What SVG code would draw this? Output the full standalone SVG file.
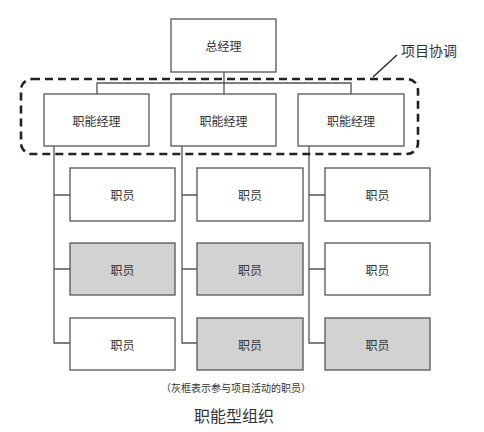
<svg xmlns="http://www.w3.org/2000/svg" width="484" height="432" viewBox="0 0 484 432">
<style>
.box{fill:#fff;stroke:#555;stroke-width:1.3}
.gray{fill:#d2d2d2;stroke:#555;stroke-width:1.3}
.t{font-family:"Noto Sans CJK SC","Noto Sans",sans-serif;font-size:12px;fill:#333;text-anchor:middle;dominant-baseline:central}
.ln{fill:none;stroke:#555;stroke-width:1.3}
</style>
<rect width="484" height="432" fill="#fff"/>
<g id="connectors">
<path class="ln" d="M224,72V94M97,94V83H351V94"/>
<path class="ln" d="M54,146V343H70M54,195H70M54,269H70"/>
<path class="ln" d="M182,146V343H197M182,195H197M182,269H197"/>
<path class="ln" d="M309,146V343H325M309,195H325M309,269H325"/>
</g>
<g id="coordination">
<rect x="21" y="79" width="397" height="75" rx="11" fill="none" stroke="#222" stroke-width="2.6" stroke-dasharray="8,5"/>
<line x1="373" y1="77" x2="397" y2="55" stroke="#222" stroke-width="1.3"/>
<text x="429" y="50" class="t" style="font-size:14px">项目协调</text>
</g>
<g id="gm"><rect class="box" x="171" y="19" width="105" height="53"/><text class="t" x="223.5" y="45.5">总经理</text></g>
<g id="fm1"><rect class="box" x="44" y="94" width="105" height="52"/><text class="t" x="96.5" y="120">职能经理</text></g>
<g id="fm2"><rect class="box" x="171" y="94" width="105" height="52"/><text class="t" x="223.5" y="120">职能经理</text></g>
<g id="fm3"><rect class="box" x="298" y="94" width="106" height="52"/><text class="t" x="351" y="120">职能经理</text></g>
<g id="e11"><rect class="box" x="70" y="168" width="105" height="53"/><text class="t" x="122.5" y="194.5">职员</text></g>
<g id="e12"><rect class="gray" x="70" y="243" width="105" height="52"/><text class="t" x="122.5" y="269">职员</text></g>
<g id="e13"><rect class="box" x="70" y="318" width="105" height="52"/><text class="t" x="122.5" y="344">职员</text></g>
<g id="e21"><rect class="box" x="197" y="168" width="106" height="53"/><text class="t" x="250" y="194.5">职员</text></g>
<g id="e22"><rect class="gray" x="197" y="243" width="106" height="52"/><text class="t" x="250" y="269">职员</text></g>
<g id="e23"><rect class="gray" x="197" y="318" width="106" height="52"/><text class="t" x="250" y="344">职员</text></g>
<g id="e31"><rect class="box" x="325" y="168" width="105" height="53"/><text class="t" x="377.5" y="194.5">职员</text></g>
<g id="e32"><rect class="box" x="325" y="243" width="105" height="52"/><text class="t" x="377.5" y="269">职员</text></g>
<g id="e33"><rect class="gray" x="325" y="318" width="105" height="52"/><text class="t" x="377.5" y="344">职员</text></g>
<text class="t" x="236" y="387" style="font-size:10px">（灰框表示参与项目活动的职员）</text>
<text class="t" x="234" y="415" style="font-size:16px">职能型组织</text>
</svg>
